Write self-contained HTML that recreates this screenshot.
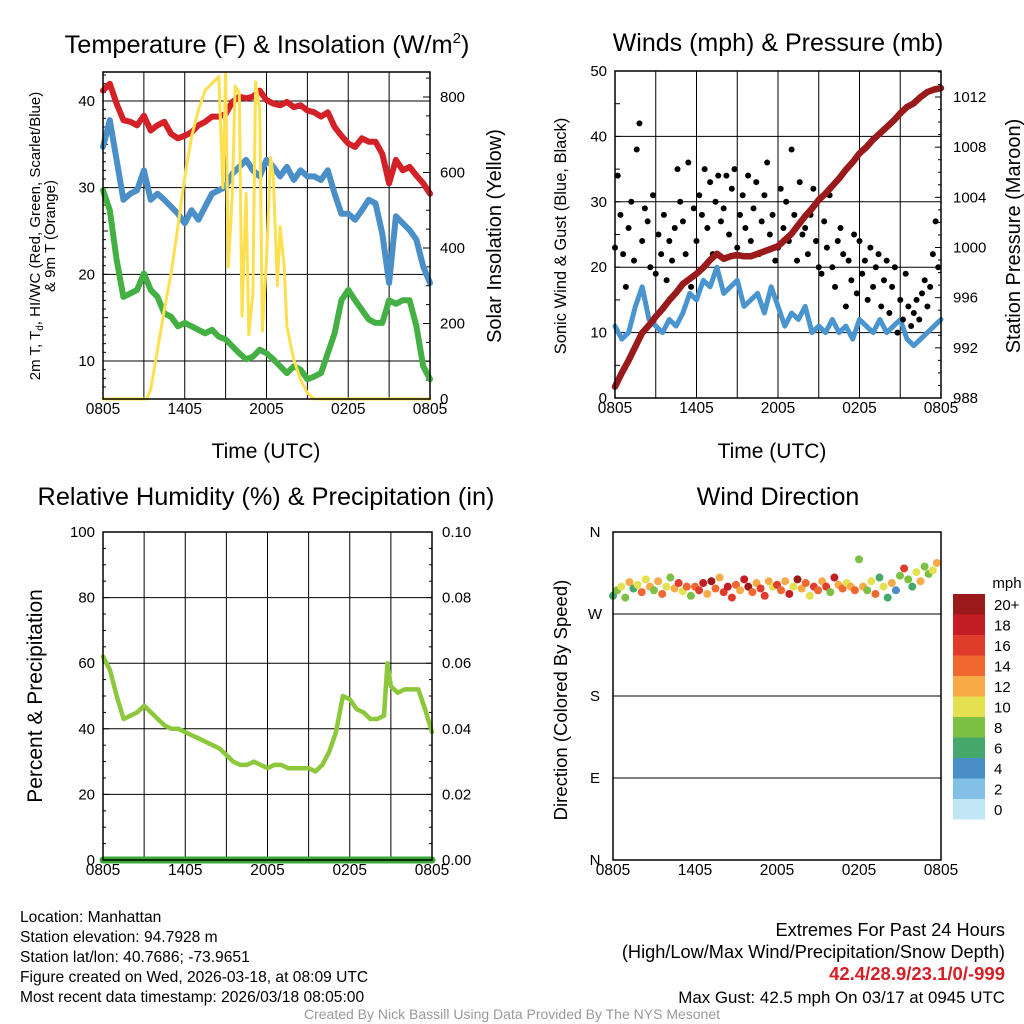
<!DOCTYPE html>
<html><head><meta charset="utf-8"><style>
body{margin:0;background:#fff;}
svg{display:block;font-family:"Liberation Sans",sans-serif;}
</style></head><body>
<svg id="s" width="1024" height="1024" viewBox="0 0 1024 1024"></svg>
<script>
// ---- data ----
const hours=[0,0.5,1,1.5,2,2.5,3,3.5,4,4.5,5,5.5,6,6.5,7,7.5,8,8.5,9,9.5,10,10.5,11,11.5,12,12.5,13,13.5,14,14.5,15,15.5,16,16.5,17,17.5,18,18.5,19,19.5,20,20.5,21,21.5,22,22.5,23,23.5,24];
const tempRed=[41.2,42,39.7,37.8,37.6,37.2,38.3,36.6,37.2,37.6,36.2,35.7,36,36.4,37.2,37.6,38.2,38.2,38.5,39.9,40.5,40.3,40.5,41.2,40.1,39.7,39.5,39.9,39.3,39.5,38.9,38.7,38.2,38.7,37,36,35.1,34.7,35.7,35.3,35.3,33.9,30.5,33.2,32,32.4,31.4,30.5,29.3];
const tempBlue=[34.7,37.8,33.2,28.6,29.3,29.7,32,28.6,29.3,28.6,27.8,27,25.9,27.4,26.3,27.8,29.3,29.7,30.1,31.6,32.4,33.2,32,31.3,33.2,32.4,31.3,32.4,30.9,32,31.3,31.3,30.9,32,29.3,27,27,26.3,27.4,28.6,28.2,24.7,19,26.7,25.9,25.1,24,20.9,19];
const tempGreen=[29.7,27.4,21.7,17.4,17.8,18.2,20.1,18.2,17.4,15.5,15.1,14,14.4,14,13.6,13.2,13.6,12.8,12.5,11.7,10.9,10.2,10.5,11.3,10.9,10.2,9.4,8.6,9.4,9,7.9,8.2,8.6,10.9,13.2,17,18.2,17,15.9,14.8,14.4,14.4,17,16.6,17,17,14,9.4,7.9];
const solarT=[0,3.2,3.5,4,4.5,5,5.5,6,6.5,7,7.5,8,8.5,8.8,9,9.2,9.5,9.7,10,10.2,10.5,10.7,11,11.2,11.5,11.7,12,12.3,12.5,12.8,13,13.3,13.5,14,14.5,15,15.5,24];
const solarW=[0,0,25,130,236,333,457,589,695,765,818,836,854,560,862,350,545,830,810,220,545,170,280,840,765,180,369,640,589,300,457,350,192,104,51,16,0,0];
const windBlue=[11,9,10,14,17,12,11,10,12,11,13,16,15,18,17,20,16,17,18,14,15,16,13,17,14,11,13,12,14,10,11,10,12,10,11,9,12,11,10,12,10,11,12,9,8,9,10,11,12];
const pressure=[988.9,990,991,992.1,993.2,993.8,994.5,995.1,995.8,996.4,997.1,997.5,997.9,998.4,999,999.5,999.1,999.3,999.4,999.3,999.3,999.5,999.7,999.9,1000.1,1000.6,1001.1,1001.8,1002.5,1003.1,1003.8,1004.3,1004.9,1005.5,1006.2,1006.8,1007.5,1008,1008.6,1009.1,1009.6,1010.1,1010.7,1011.2,1011.5,1012,1012.4,1012.6,1012.7];
const gusts=[23,34,28,22,17,26,30,21,38,42,24,29,27,20,31,19,25,22,28,18,24,21,26,35,30,27,22,36,17,29,24,31,28,35,26,33,22,30,34,27,29,34,25,32,35,23,28,31,26,34,24,29,33,22,27,31,36,25,28,21,23,32,26,30,24,38,28,21,33,25,26,22,28,32,24,20,19,27,23,31,20,17,24,26,22,14,21,18,25,16,24,19,21,15,23,17,20,22,14,18,21,13,17,20,10,15,12,19,14,11,13,15,12,16,18,14,17,22,27,20];
const rhT=[0,0.5,1,1.5,2,2.5,3,3.5,4,4.5,5,5.5,6,6.5,7,7.5,8,8.5,9,9.5,10,10.5,11,11.5,12,12.5,13,13.5,14,14.5,15,15.5,16,16.5,17,17.5,18,18.5,19,19.5,20,20.5,20.75,21,21.5,22,22.5,23,23.5,24];
const rhVals=[62,58,50,43,44,45,47,45,43,41,40,40,39,38,37,36,35,34,32,30,29,29,30,29,28,29,29,28,28,28,28,27,29,33,39,50,49,46,45,43,43,44,60,53,51,52,52,52,46,39];
const precip=[0,0,0,0,0,0,0,0,0,0,0,0,0];
const dirVals=[290,296,300,288,305,298,302,294,308,300,296,306,292,300,310,298,304,295,300,290,300,296,304,292,306,298,310,294,300,288,302,296,308,300,294,304,298,290,306,300,302,296,306,292,300,308,298,304,290,300,296,306,300,294,310,302,298,304,300,296,330,300,296,306,292,310,300,288,304,296,312,320,308,300,316,306,322,314,318,326];
const dirSpeed=[6,8,10,9,12,7,11,14,10,12,8,13,15,11,9,12,16,10,14,8,14,16,18,12,20,15,13,17,19,16,14,12,18,20,15,13,17,16,12,10,16,14,12,18,10,20,13,15,11,17,14,12,16,9,18,13,15,10,12,14,9,12,8,11,14,6,10,7,12,4,9,16,8,6,10,12,9,8,11,12];
const speedColors=["#c0e6f6","#82c0e8","#4a8ec8","#46a86a","#7cc044","#e4e050","#f8aa46","#f06830","#e03c2c","#c41e24","#9a1a1c"];
const speedLabels=["0","2","4","6","8","10","12","14","16","18","20+"];
const xTickLabels=["0805","1405","2005","0205","0805"];

const NS="http://www.w3.org/2000/svg";
const svg=document.getElementById('s');
function el(tag,attrs,parent){const e=document.createElementNS(NS,tag);for(const k in attrs)e.setAttribute(k,attrs[k]);(parent||svg).appendChild(e);return e;}
function txt(x,y,s,size,opts){const e=el('text',{x:x,y:y,'font-size':size,'text-anchor':(opts&&opts.anchor)||'middle',fill:(opts&&opts.fill)||'#000'});if(opts&&opts.weight)e.setAttribute('font-weight',opts.weight);if(opts&&opts.rot)e.setAttribute('transform','rotate(-90 '+x+' '+y+')');e.textContent=s;return e;}
function scale(d0,d1,r0,r1){return v=>r0+(v-d0)/(d1-d0)*(r1-r0);}
function poly(xs,ys,xf,yf,color,w,name){const pts=xs.map((t,i)=>xf(t).toFixed(1)+','+yf(ys[i]).toFixed(1)).join(' ');const p=el('polyline',{points:pts,fill:'none',stroke:color,'stroke-width':w,'stroke-linejoin':'round','stroke-linecap':'round'});


return p;}

function frame(x0,x1,y0,y1,name){const r=el('rect',{x:x0,y:y0,width:x1-x0,height:y1-y0,fill:'none',stroke:'#000','stroke-width':1.5});

}
function vgrid(x0,x1,y0,y1){for(let i=1;i<8;i++){const x=x0+i*(x1-x0)/8;el('line',{x1:x,x2:x,y1:y0,y2:y1,stroke:'#000','stroke-width':1});}}
function xTicks(x0,x1,y1){xTickLabels.forEach((l,i)=>{const x=x0+i*(x1-x0)/4;const t=txt(x,y1+15,l,15.5);

});}

// ===== Panel 1 =====
{const X0=103,X1=430,Y0=72,Y1=399;
const xs=scale(0,24,X0,X1), yT=scale(10,40,361,101), yS=scale(0,800,399,97);
vgrid(X0,X1,Y0,Y1);
[10,20,30,40].forEach(v=>{el('line',{x1:X0,x2:X1,y1:yT(v),y2:yT(v),stroke:'#000','stroke-width':1});txt(X0-8,yT(v)+5,String(v),15,{anchor:'end'});});
for(let v=7;v<=43;v++){el('line',{x1:X0,x2:X0+(v%5?3:5),y1:yT(v),y2:yT(v),stroke:'#000'});}
for(let v=0;v<=850;v+=50){el('line',{x1:X1,x2:X1-(v%200?4:7),y1:yS(v),y2:yS(v),stroke:'#000'});}
[0,200,400,600,800].forEach(v=>txt(X1+10,yS(v)+5,String(v),15,{anchor:'start'}));
poly(hours,tempRed,xs,yT,'#d42027',6,'temperature-line');
poly(hours,tempBlue,xs,yT,'#4a8fc8',6,'heat-index-line');
poly(hours,tempGreen,xs,yT,'#44b044',6,'dewpoint-line');
poly(solarT,solarW,xs,yS,'#fde050',3,'solar-insolation-line');
frame(X0,X1,Y0,Y1,'temperature-plot-area');
xTicks(X0,X1,Y1);
const tt=el('text',{x:267,y:53,'font-size':25.3,'text-anchor':'middle'});


tt.innerHTML='Temperature (F) &amp; Insolation (W/m<tspan font-size="15" dy="-10">2</tspan><tspan dy="10">)</tspan>';
const yl=el('text',{x:40,y:236,'font-size':15,'text-anchor':'middle',transform:'rotate(-90 40 236)'});


yl.innerHTML='2m T, T<tspan font-size="10" dy="3">d</tspan><tspan dy="-3">, HI/WC (Red, Green, Scarlet/Blue)</tspan>';
txt(55,236,'& 9m T (Orange)',15,{rot:1});
txt(266,458,'Time (UTC)',21);
txt(501,236,'Solar Insolation (Yellow)',20,{rot:1});}

// ===== Panel 2 =====
{const X0=615,X1=941,Y0=71,Y1=398;
const xs=scale(0,24,X0,X1), yW=scale(0,50,Y1,Y0), yP=scale(988,1012,Y1,97);
vgrid(X0,X1,Y0,Y1);
[0,10,20,30,40,50].forEach(v=>{if(v>0&&v<50)el('line',{x1:X0,x2:X1,y1:yW(v),y2:yW(v),stroke:'#000'});txt(X0-8,yW(v)+5,String(v),15,{anchor:'end'});});
for(let v=0;v<=50;v+=5){el('line',{x1:X0,x2:X0+5,y1:yW(v),y2:yW(v),stroke:'#000'});}
for(let v=988;v<=1014;v+=1){el('line',{x1:X1,x2:X1-(v%4?3:6),y1:yP(v),y2:yP(v),stroke:'#000'});}
[988,992,996,1000,1004,1008,1012].forEach(v=>txt(X1+12,yP(v)+5,String(v),15,{anchor:'start'}));
poly(hours,windBlue,xs,yW,'#4a94d0',5,'sonic-wind-line');
gusts.forEach((g,i)=>{const c=el('circle',{cx:xs(i*0.2),cy:yW(g),r:3,fill:'#000'});

});
poly(hours,pressure,xs,yP,'#9a1a1c',6.5,'pressure-line');
frame(X0,X1,Y0,Y1,'winds-plot-area');
xTicks(X0,X1,Y1);
txt(778,51,'Winds (mph) & Pressure (mb)',25);
txt(772,458,'Time (UTC)',21);
txt(566,236,'Sonic Wind & Gust (Blue, Black)',16.5,{rot:1});
txt(1020,236,'Station Pressure (Maroon)',20,{rot:1});}

// ===== Panel 3 =====
{const X0=103,X1=432,Y0=532,Y1=860;
const xs=scale(0,24,X0,X1), yR=scale(0,100,Y1,Y0);
vgrid(X0,X1,Y0,Y1);
[0,20,40,60,80,100].forEach((v,i)=>{if(v>0&&v<100)el('line',{x1:X0,x2:X1,y1:yR(v),y2:yR(v),stroke:'#000'});txt(X0-8,yR(v)+5,String(v),15,{anchor:'end'});txt(X1+10,yR(v)+5,(v/1000).toFixed(2),15,{anchor:'start'});});
for(let v=0;v<=100;v+=5){el('line',{x1:X0,x2:X0+(v%20?3:6),y1:yR(v),y2:yR(v),stroke:'#000'});el('line',{x1:X1,x2:X1-(v%20?3:6),y1:yR(v),y2:yR(v),stroke:'#000'});}
poly(rhT,rhVals,xs,yR,'#8cc83c',4.5,'humidity-line');
poly(precip.map((_,i)=>i*2),precip,xs,v=>yR(v*1000),'#3aa838',7,'precipitation-line');
frame(X0,X1,Y0,Y1,'humidity-plot-area');
xTicks(X0,X1,Y1);
txt(266,505,'Relative Humidity (%) & Precipitation (in)',25.3);
txt(42,696,'Percent & Precipitation',21,{rot:1});}

// ===== Panel 4 =====
{const X0=613,X1=941,Y0=532,Y1=860;
const xs=scale(0,24,X0,X1), yD=scale(0,360,Y1,Y0);
[['N',360],['W',270],['S',180],['E',90],['N',0]].forEach(([l,v])=>{if(v>0&&v<360)el('line',{x1:X0,x2:X1,y1:yD(v),y2:yD(v),stroke:'#000'});txt(X0-18,yD(v)+5,l,15);});
dirVals.forEach((d,i)=>{const b=Math.min(10,Math.floor(dirSpeed[i]/2));const c=el('circle',{cx:xs(i*0.3),cy:yD(d),r:4,fill:speedColors[b]});

});
frame(X0,X1,Y0,Y1,'direction-plot-area');
xTicks(X0,X1,Y1);
txt(778,505,'Wind Direction',25);
txt(567,700,'Direction (Colored By Speed)',18.5,{rot:1});
txt(1007,588,'mph',15);
for(let i=0;i<11;i++){const y=594+(10-i)*20.5;const r=el('rect',{x:953,y:y,width:32,height:20.5,fill:speedColors[i]});


txt(994,y+16,speedLabels[i],15,{anchor:'start'});}}

// ===== footer text =====
['Location: Manhattan','Station elevation: 94.7928 m','Station lat/lon: 40.7686; -73.9651','Figure created on Wed, 2026-03-18, at 08:09 UTC','Most recent data timestamp: 2026/03/18 08:05:00'].forEach((s,i)=>{const t=txt(20,922+i*20,s,15.6,{anchor:'start'});

});
txt(1005,936,'Extremes For Past 24 Hours',18.2,{anchor:'end'});
txt(1005,958,'(High/Low/Max Wind/Precipitation/Snow Depth)',18.2,{anchor:'end'});
txt(1005,980,'42.4/28.9/23.1/0/-999',18.5,{anchor:'end',fill:'#d42027',weight:'bold'});
txt(1005,1003,'Max Gust: 42.5 mph On 03/17 at 0945 UTC',16.9,{anchor:'end'});
txt(512,1019,'Created By Nick Bassill Using Data Provided By The NYS Mesonet',14,{fill:'#999'});
</script>
</body></html>
